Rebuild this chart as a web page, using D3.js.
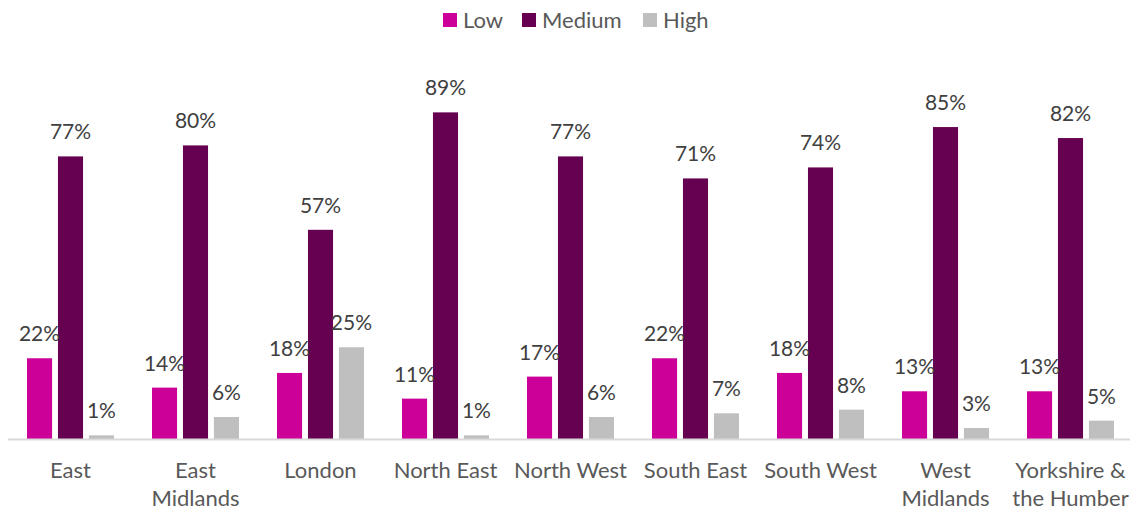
<!DOCTYPE html>
<html>
<head>
<meta charset="utf-8">
<script src="https://cdn.jsdelivr.net/npm/d3@7"></script>
<style>
  html, body { margin: 0; padding: 0; background: #fff; }
  svg { display: block; font-family: Lato, "Open Sans", sans-serif; }
</style>
</head>
<body>
<svg id="chart" width="1130" height="512"></svg>
<script>
// Regions and their share of the three levels (percent)
const regions = [
  ["East"],
  ["East", "Midlands"],
  ["London"],
  ["North East"],
  ["North West"],
  ["South East"],
  ["South West"],
  ["West", "Midlands"],
  ["Yorkshire &", "the Humber"]
];
const seriesNames = ["Low", "Medium", "High"];
const lowValues    = [22, 14, 18, 11, 17, 22, 18, 13, 13];
const mediumValues = [77, 80, 57, 89, 77, 71, 74, 85, 82];
const highValues   = [1, 6, 25, 1, 6, 7, 8, 3, 5];
const colors = ["#CC0099", "#660050", "#BFBFBF"];

const seriesValues = [lowValues, mediumValues, highValues];
const rows = regions.map((r, i) => ({
  key: r.join(" "),
  lines: r,
  values: seriesNames.map((s, j) => ({ series: s, value: seriesValues[j][i] }))
}));

const svg = d3.select("#chart");
const baseY = 439;

const x0 = d3.scaleBand()
  .domain(rows.map(d => d.key))
  .range([8, 1133])
  .paddingInner(0)
  .paddingOuter(0);

const x1 = d3.scaleBand()
  .domain(seriesNames)
  .range([19, 125 - 19])
  .paddingInner(0.19);

const y = d3.scaleLinear()
  .domain([0, 100])
  .range([baseY, baseY - 367]);

// Groups of bars
const groups = svg.append("g")
  .selectAll("g")
  .data(rows)
  .join("g")
  .attr("transform", d => `translate(${x0(d.key)},0)`);

groups.selectAll("rect")
  .data(d => d.values)
  .join("rect")
  .attr("x", d => x1(d.series))
  .attr("width", x1.bandwidth())
  .attr("y", d => y(d.value))
  .attr("height", d => y(0) - y(d.value))
  .attr("fill", (d, i) => colors[i]);

groups.selectAll("text.val")
  .data(d => d.values)
  .join("text")
  .attr("class", "val")
  .attr("x", d => x1(d.series) + x1.bandwidth() / 2)
  .attr("y", d => y(d.value) - 17)
  .attr("text-anchor", "middle")
  .attr("font-size", 21)
  .attr("fill", "#404040")
  .text(d => d.value + "%");

// Baseline
svg.append("line")
  .attr("x1", 8).attr("x2", 1130)
  .attr("y1", baseY + 0.5).attr("y2", baseY + 0.5)
  .attr("stroke", "#D9D9D9")
  .attr("stroke-width", 2);

// Category labels
const cat = svg.append("g")
  .selectAll("text")
  .data(rows)
  .join("text")
  .attr("x", d => x0(d.key) + x0.bandwidth() / 2)
  .attr("y", 478)
  .attr("text-anchor", "middle")
  .attr("font-size", 22)
  .attr("fill", "#595959");
cat.selectAll("tspan")
  .data(d => d.lines)
  .join("tspan")
  .attr("x", function() { return d3.select(this.parentNode).attr("x"); })
  .attr("dy", (d, i) => i === 0 ? 0 : 28)
  .text(d => d);

// Legend
const legendX = [443, 522, 643];
const legend = svg.append("g")
  .selectAll("g")
  .data(seriesNames)
  .join("g")
  .attr("transform", (d, i) => `translate(${legendX[i]},13)`);
legend.append("rect")
  .attr("width", 14).attr("height", 14)
  .attr("fill", (d, i) => colors[i]);
legend.append("text")
  .attr("x", 20).attr("y", 15)
  .attr("font-size", 22)
  .attr("fill", "#595959")
  .text(d => d);
</script>
</body>
</html>
